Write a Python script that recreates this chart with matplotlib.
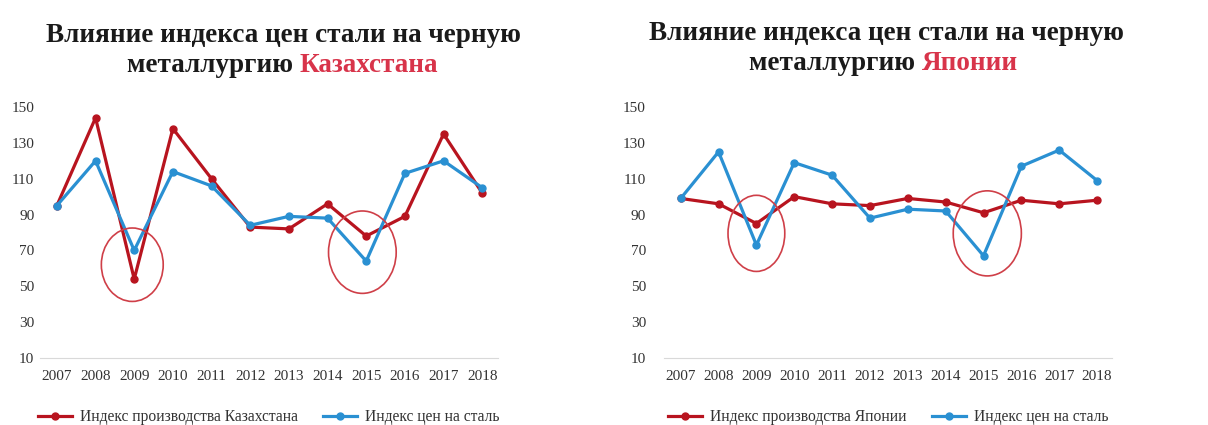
import matplotlib
matplotlib.use("Agg")
import matplotlib.pyplot as plt
from matplotlib.patches import Ellipse

years = ["2007", "2008", "2009", "2010", "2011", "2012", "2013", "2014", "2015", "2016", "2017", "2018"]

kz_prod = [95, 144, 54, 138, 110, 83, 82, 96, 78, 89, 135, 102]
kz_steel = [95, 120, 70, 114, 106, 84, 89, 88, 64, 113, 120, 105]

jp_prod = [99, 96, 85, 100, 96, 95, 99, 97, 91, 98, 96, 98]
jp_steel = [99, 125, 73, 119, 112, 88, 93, 92, 67, 117, 126, 109]

yticks = [10, 30, 50, 70, 90, 110, 130, 150]

RED = "#b8141f"
BLUE = "#2a90d2"
TITLE_RED = "#d8344a"
CIRCLE = "#cf3f48"

plt.rcParams["font.family"] = ["Liberation Serif", "DejaVu Serif"]

fig = plt.figure(figsize=(12.08, 4.25), dpi=100)


def panel(rect, prod, steel, prod_label, circles, ypad):
    ax = fig.add_axes(rect)
    x = range(len(years))
    ax.plot(x, prod, color=RED, lw=2.3, marker="o", ms=5, zorder=3, label=prod_label)
    ax.plot(x, steel, color=BLUE, lw=2.3, marker="o", ms=5, zorder=3, label="Индекс цен на сталь")
    for cx, cy, w, h in circles:
        ax.add_patch(Ellipse((cx, cy), w, h, fill=False, ec=CIRCLE, lw=1.2, zorder=4))
    ax.set_xlim(-0.44, 11.4)
    ax.set_ylim(10, 150)
    ax.set_xticks(list(x))
    ax.set_xticklabels(years)
    ax.set_yticks(yticks)
    for s in ["top", "right", "left"]:
        ax.spines[s].set_visible(False)
    ax.spines["bottom"].set_color("#d9d9d9")
    ax.tick_params(length=0, labelsize=11, colors="#333333", pad=9)
    ax.tick_params(axis="y", pad=ypad)
    ax.legend(loc="upper center", bbox_to_anchor=(0.5, -0.15), ncol=2, frameon=False,
              fontsize=11.2, handlelength=2.2, columnspacing=1.6, handletextpad=0.5,
              labelcolor="#333333")
    return ax


panel([0.033, 0.158, 0.379, 0.59], kz_prod, kz_steel, "Индекс производства Казахстана",
      [(1.95, 62, 1.6, 41), (7.9, 69, 1.75, 46)], 4)
panel([0.5497, 0.158, 0.371, 0.59], jp_prod, jp_steel, "Индекс производства Японии",
      [(2.0, 79.5, 1.5, 42.5), (8.1, 79.5, 1.8, 47.5)], 13)

FS = 19.5
tkw = dict(fontsize=FS, fontweight="bold", color="#1a1a1a")
fig.text(283 / 1208, 1 - 35 / 425, "Влияние индекса цен стали на черную", ha="center", va="center", **tkw)
fig.text(300 / 1208, 1 - 65 / 425, "металлургию ", ha="right", va="center", **tkw)
fig.text(300 / 1208, 1 - 65 / 425, "Казахстана", ha="left", va="center",
         fontsize=FS, fontweight="bold", color=TITLE_RED)

fig.text(886 / 1208, 1 - 33 / 425, "Влияние индекса цен стали на черную", ha="center", va="center", **tkw)
fig.text(922 / 1208, 1 - 63 / 425, "металлургию ", ha="right", va="center", **tkw)
fig.text(922 / 1208, 1 - 63 / 425, "Японии", ha="left", va="center",
         fontsize=FS, fontweight="bold", color=TITLE_RED)

fig.savefig("out.png", dpi=100)
